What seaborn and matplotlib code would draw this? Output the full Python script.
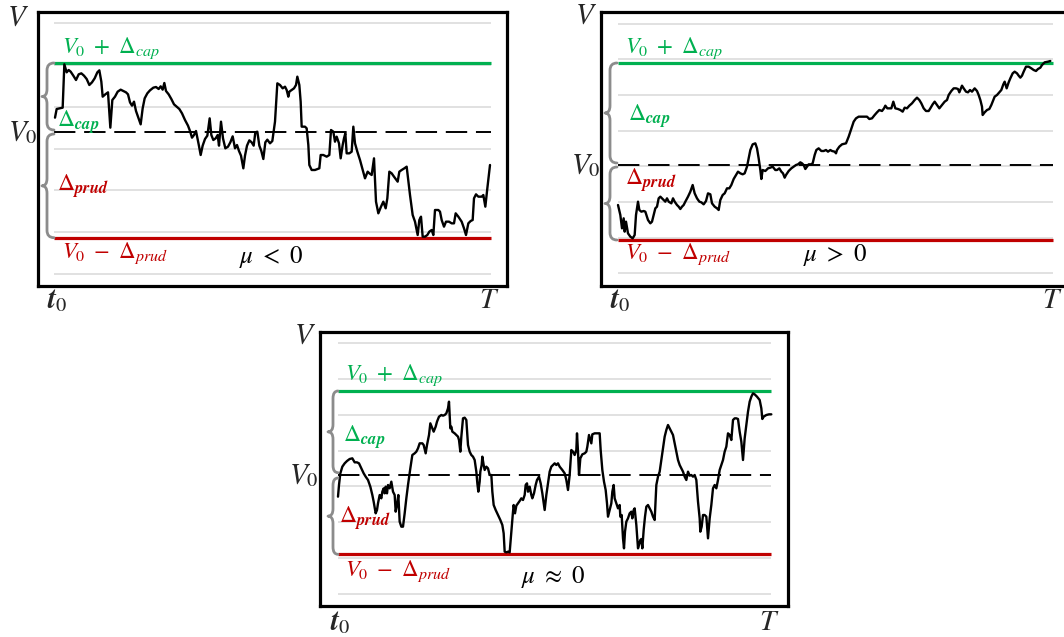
import numpy as np
import pandas as pd
import matplotlib
matplotlib.use("Agg")
import matplotlib.pyplot as plt
from matplotlib.path import Path
from matplotlib.patches import PathPatch
import seaborn as sns

# ---------------------------------------------------------------
# Simulated account value paths: time step and value relative to V0
# ---------------------------------------------------------------
down_t = [15, 20, 38, 43, 50, 56, 62, 70, 78, 86,
          94, 102, 110, 118, 126, 134, 142, 148, 154, 158,
          166, 174, 181, 187, 195, 203, 212, 220, 228, 234,
          240, 246, 252, 258, 265, 272, 278, 284, 292, 300,
          310, 318, 326, 332, 338, 343, 348, 356, 364, 372,
          380, 388, 396, 405, 414, 420, 426, 432, 438, 446,
          452, 458, 465, 472, 479, 484, 490, 497, 503, 507,
          513, 519, 526, 534, 541, 548, 555, 561, 567, 573,
          580, 585, 591, 598, 605, 611, 616, 622, 628, 634,
          640, 646, 652, 660, 667, 675, 682, 690, 698, 705,
          710, 715, 718, 725, 732, 738, 742, 748, 752, 755,
          765, 770, 775, 778, 785, 795, 808, 812, 820, 830,
          838, 843, 850, 855, 860, 867, 872, 878, 882, 886,
          890, 898, 905, 910, 915, 922, 930, 938, 945, 953,
          958, 965, 972, 978, 985, 993, 1000, 1007, 1012, 1018,
          1025, 1032, 1043, 1048, 1055, 1063, 1070, 1080, 1088, 1095,
          1103, 1108, 1113, 1118, 1125, 1132, 1138, 1145, 1150, 1155,
          1165, 1170, 1175, 1182, 1188, 1197, 1205, 1212, 1217, 1225,
          1235, 1242, 1248, 1255, 1262, 1268, 1272, 1278, 1285, 1295,
          1300, 1306, 1312, 1320]
down_v = [43, 69, 73, 203, 179, 186, 181, 169, 156, 173,
          176, 169, 159, 141, 149, 161, 179, 185, 151, 106,
          113, 119, 13, 96, 106, 121, 127, 123, 119, 113,
          89, 79, 91, 63, 43, 23, 71, 101, 116, 125,
          133, 135, 129, 137, 127, 147, 123, 113, 99, 83,
          76, 69, 56, 36, 19, 3, -17, -9, 3, -37,
          -69, -41, -21, -11, 41, -9, -24, -19, -9, -41,
          31, -19, -49, -44, -31, -13, -49, -39, -57, -71,
          -109, -71, -41, -25, -31, -41, -1, 1, -41, -57,
          -81, -31, -23, -34, -27, 31, 146, 141, 131, 136,
          126, 106, 121, 126, 131, 141, 166, 141, 91, 16,
          16, 11, -39, -99, -114, -114, -109, -69, -69, -74,
          -69, 6, 1, -29, -14, -34, -79, -39, -19, -4,
          -64, -64, -59, 16, -34, -59, -84, -114, -139, -119,
          -124, -129, -79, -209, -244, -224, -209, -229, -199, -119,
          -124, -134, -149, -119, -114, -109, -104, -189, -249, -269,
          -309, -264, -254, -314, -314, -309, -299, -294, -309, -234,
          -234, -239, -264, -284, -269, -269, -274, -274, -244, -254,
          -269, -289, -309, -274, -267, -264, -199, -187, -194, -194,
          -189, -224, -169, -99]

up_t = [18, 25, 30, 35, 38, 42, 48, 55, 62, 68,
        72, 78, 82, 88, 95, 100, 108, 115, 120, 125,
        130, 135, 140, 145, 150, 155, 160, 165, 170, 178,
        183, 188, 195, 200, 205, 210, 215, 220, 228, 235,
        242, 248, 255, 262, 268, 275, 282, 288, 295, 300,
        308, 315, 320, 325, 332, 338, 345, 352, 358, 365,
        372, 378, 385, 392, 398, 405, 410, 415, 422, 430,
        435, 440, 445, 448, 452, 460, 468, 475, 482, 490,
        495, 502, 508, 513, 518, 522, 530, 538, 545, 552,
        558, 565, 570, 575, 580, 585, 590, 597, 602, 608,
        613, 620, 628, 635, 642, 648, 655, 660, 668, 672,
        675, 682, 690, 702, 710, 715, 720, 725, 732, 740,
        748, 755, 765, 772, 780, 788, 795, 802, 810, 816,
        820, 826, 832, 838, 844, 850, 858, 865, 872, 878,
        885, 892, 900, 908, 915, 922, 928, 935, 942, 950,
        955, 962, 968, 975, 982, 990, 998, 1005, 1010, 1018,
        1025, 1032, 1038, 1042, 1050, 1055, 1062, 1068, 1074, 1080,
        1088, 1095, 1100, 1105, 1110, 1112, 1118, 1125, 1132, 1138,
        1144, 1148, 1155, 1162, 1168, 1174, 1178, 1184, 1190, 1195,
        1202, 1208, 1215, 1220, 1225, 1230, 1235, 1242, 1250, 1258,
        1265, 1272, 1278, 1285, 1290, 1298, 1308, 1315]
up_v = [-120, -150, -190, -160, -200, -170, -205, -215, -220, -210,
        -150, -110, -135, -140, -138, -140, -165, -175, -170, -150,
        -130, -125, -100, -95, -100, -105, -110, -100, -110, -115,
        -100, -110, -120, -125, -132, -125, -120, -110, -95, -80,
        -60, -85, -100, -110, -112, -118, -108, -85, -88, -115,
        -125, -130, -135, -105, -90, -85, -70, -70, -60, -42,
        -30, -20, -25, -28, -25, -5, 20, 45, 62, 65,
        50, 20, -15, -42, -15, -18, -10, -8, -5, -15,
        -15, -10, -20, -25, -38, -30, -18, -10, -5, 0,
        2, 8, 5, 0, -12, -5, 2, 2, 5, 30,
        45, 50, 42, 42, 45, 40, 45, 42, 40, 35,
        45, 55, 62, 65, 85, 100, 115, 130, 140, 145,
        145, 145, 145, 138, 140, 150, 158, 165, 162, 170,
        178, 170, 170, 170, 190, 170, 168, 165, 160, 172,
        170, 178, 185, 195, 202, 195, 185, 170, 162, 162,
        170, 182, 190, 180, 170, 180, 190, 195, 210, 222,
        230, 230, 228, 218, 238, 230, 220, 218, 225, 220,
        230, 222, 210, 195, 175, 150, 158, 165, 168, 180,
        195, 205, 210, 218, 225, 242, 250, 230, 248, 260,
        275, 280, 275, 268, 262, 268, 280, 295, 295, 290,
        285, 282, 288, 292, 300, 308, 310, 312]

flat_t = [15, 18, 22, 28, 35, 42, 50, 58, 65, 72,
          78, 85, 92, 98, 105, 112, 118, 122, 128, 132,
          135, 140, 145, 148, 152, 155, 158, 162, 165, 170,
          175, 180, 185, 188, 192, 196, 200, 205, 210, 215,
          220, 225, 232, 238, 245, 250, 255, 260, 268, 272,
          278, 282, 288, 292, 298, 302, 308, 312, 318, 325,
          330, 335, 340, 345, 348, 352, 355, 358, 365, 370,
          375, 378, 382, 385, 390, 395, 400, 405, 410, 415,
          420, 425, 430, 433, 436, 440, 442, 446, 448, 452,
          455, 460, 465, 470, 475, 478, 482, 488, 495, 502,
          508, 512, 515, 520, 525, 530, 535, 540, 542, 546,
          550, 555, 560, 565, 570, 575, 578, 582, 585, 590,
          595, 598, 603, 608, 612, 618, 623, 628, 635, 640,
          645, 650, 655, 660, 665, 670,
          675, 680, 688, 695, 700, 705, 710, 715, 720, 725,
          730, 732, 735, 738, 742, 748, 755, 760, 763, 768,
          772, 775, 778, 785, 792, 800, 803, 808, 813, 818,
          822, 825, 830, 835, 838, 842, 845, 850, 855, 860,
          862, 866, 870, 873, 876, 880, 885, 890, 895, 898,
          902, 905, 910, 915, 918, 922, 925, 928, 932, 936,
          940, 945, 950, 955, 960, 965, 970, 975, 980, 985,
          990, 995, 1000, 1005, 1010, 1015, 1020, 1025, 1030, 1035,
          1040, 1045, 1050, 1055, 1060, 1065, 1070, 1075, 1080, 1085,
          1090, 1095, 1100, 1102, 1106, 1110, 1115, 1120, 1125, 1130,
          1135, 1140, 1145, 1150, 1155, 1160, 1165, 1170, 1175, 1180,
          1185, 1190, 1195, 1200, 1205, 1210, 1215, 1220, 1225, 1230,
          1235, 1240, 1245, 1250, 1255, 1260, 1265, 1272, 1280, 1285,
          1288, 1292, 1300, 1308, 1315]
flat_v = [-64, -29, 6, 26, 36, 43, 49, 51, 39, 39,
          36, 21, 6, -4, -14, -34, -59, -79, -114, -104,
          -84, -59, -69, -49, -39, -54, -34, -54, -29, -39,
          -19, -49, -59, -109, -89, -59, -139, -154, -154, -114,
          -69, -29, 21, 61, 66, 71, 81, 96, 96, 91,
          66, 91, 121, 156, 141, 131, 146, 161, 176, 181,
          179, 181, 186, 201, 221, 141, 146, 131, 126, 121,
          116, 106, 71, 116, 171, 173, 166, 91, 71, 61,
          56, 46, 11, -24, -49, -19, 11, 31, 56, 31,
          16, 26, 21, 1, 1, -49, -89, -104, -119, -134,
          -149, -174, -229, -231, -229, -231, -169, -109, -89, -114,
          -91, -84, -77, -69, -74, -59, -29, -24, -49, -34,
          -59, -69, -54, -29, -14, -4, -24, -54, -104, -59,
          -24, 11, 26, 31, 36, 31,
          36, 26, 16, 6, -14, -44, 1, 76, 71, 61,
          76, 126, 71, 1, 51, 63, 66, 71, 86, 121,
          106, 96, 123, 126, 126, 126, 76, 16, -19, -44,
          -84, -124, -104, -84, -49, -29, -69, -84, -99, -89,
          -124, -119, -189, -219, -169, -139, -129, -114, -109, -129,
          -104, -99, -149, -219, -209, -194, -191, -219, -164, -124,
          -94, -89, -99, -109, -124, -134, -29, -4, 11, 46,
          81, 116, 136, 151, 141, 131, 121, 96, 71, 46,
          31, 21, 11, -4, -14, 11, -1, 1, -4, 1,
          -14, -79, -129, -169, -154, -119, -119, -124, -189, -129,
          -89, -39, -29, -39, -14, 16, 31, 46, 71, 86,
          126, 121, 106, 166, 171, 171, 169, 131, 101, 46,
          111, 151, 191, 221, 236, 246, 243, 236, 226, 201,
          169, 176, 181, 183, 183]

# Capital / prudential band widths around V0 for each scenario
cap_widths = [207, 306, 253]
prud_widths = [317, 225, 237]
drift_labels = [r"$\mu\ <\ 0$", r"$\mu\ >\ 0$", r"$\mu\ \approx\ 0$"]

# Horizontal reference grid levels (relative to V0)
grid_down = [327, 201, 76, -50, -175, -300, -426]
grid_up = [424, 317, 210, 103, -4, -111, -218, -325]
grid_flat = [397, 289, 181, 73, -32, -140, -248, -356]

GREEN = "#00B050"
RED = "#C00000"
GREY = "#8C8C8C"
GRID = "#DCDCDC"

sns.set_theme(style="white")
plt.rcParams["mathtext.fontset"] = "stix"
plt.rcParams["font.family"] = ["DejaVu Serif"]

fig = plt.figure(figsize=(10.64, 6.37), dpi=100)

# axes rectangles [left, bottom, width, height] in figure fraction
rects = [
    [38 / 1064, 1 - 286 / 637, 469 / 1064, 274 / 637],
    [600.5 / 1064, 1 - 286 / 637, 466.5 / 1064, 274 / 637],
    [320 / 1064, 1 - 606 / 637, 468 / 1064, 274 / 637],
]

panels = [
    dict(t=down_t, v=down_v, grid=grid_down, xlim=(-36, 1371), ylim=(-462, 360),
         span=(12, 1323), brace=(-24, -9, 12, 6),
         lab_V=(-96, 345), lab_V0=-37, lab_t0=21, lab_T=1317, lab_bottom=-462,
         lab_cap_top=(36, 213), lab_cap=(21, 30), lab_prud=(21, -162),
         lab_prud_bot=(36, -326), lab_mu=(663, -375)),
    dict(t=up_t, v=up_v, grid=grid_up, xlim=(-34.5, 1365), ylim=(-363, 459),
         span=(17, 1322), brace=(-21, -6, 15, 6),
         lab_V=(-78, 450), lab_V0=-34, lab_t0=24, lab_T=1320, lab_bottom=-363,
         lab_cap_top=(39, 312), lab_cap=(48, 147), lab_prud=(39, -45),
         lab_prud_bot=(39, -230), lab_mu=(669, -270)),
    dict(t=flat_t, v=flat_v, grid=grid_flat, xlim=(-39, 1365), ylim=(-392, 430),
         span=(15, 1314), brace=(-15, 0, 15, 8),
         lab_V=(-84, 421), lab_V0=-43, lab_t0=21, lab_T=1308, lab_bottom=-398,
         lab_cap_top=(36, 262), lab_cap=(30, 115), lab_prud=(18, -128),
         lab_prud_bot=(36, -250), lab_mu=(660, -305)),
]


def draw_brace(ax, x_tip, x_spine, x_end, y_top, y_bot, r=22):
    """Left-pointing curly brace between y_top and y_bot."""
    y_mid = (y_top + y_bot) / 2
    verts = [(x_end, y_top), (x_spine, y_top), (x_spine, y_top - r),
             (x_spine, y_mid + r),
             (x_spine, y_mid), (x_tip, y_mid),
             (x_spine, y_mid), (x_spine, y_mid - r),
             (x_spine, y_bot + r),
             (x_spine, y_bot), (x_end, y_bot)]
    codes = [Path.MOVETO, Path.CURVE3, Path.CURVE3, Path.LINETO,
             Path.CURVE3, Path.CURVE3, Path.CURVE3, Path.CURVE3,
             Path.LINETO, Path.CURVE3, Path.CURVE3]
    ax.add_patch(PathPatch(Path(verts, codes), fill=False, edgecolor=GREY,
                           lw=2.0, capstyle="round", joinstyle="round",
                           clip_on=False, zorder=4))


for rect, p, cap, prud, mu in zip(rects, panels, cap_widths, prud_widths, drift_labels):
    ax = fig.add_axes(rect)
    x0, x1 = p["span"]

    ax.hlines(p["grid"], x0, x1, colors=GRID, lw=1.2, zorder=1)

    df = pd.DataFrame({"t": p["t"], "V": p["v"]})
    sns.lineplot(data=df, x="t", y="V", ax=ax, color="black", lw=1.7,
                 estimator=None, sort=False, zorder=3)

    ax.hlines(cap, x0, x1, colors=GREEN, lw=2.3, zorder=2.5)
    ax.hlines(-prud, x0, x1, colors=RED, lw=2.3, zorder=2.5)
    ax.hlines(0, x0, x1, colors="black", lw=1.4, linestyles=(0, (11, 4.5)), zorder=2.6)

    tip, spine, end, gap = p["brace"]
    draw_brace(ax, tip, spine, end, cap, gap)
    draw_brace(ax, tip, spine, end, -gap, -prud)

    ax.set_xlim(*p["xlim"])
    ax.set_ylim(*p["ylim"])
    ax.set_xticks([])
    ax.set_yticks([])
    ax.set_xlabel("")
    ax.set_ylabel("")
    for s in ax.spines.values():
        s.set_visible(True)
        s.set_color("black")
        s.set_linewidth(2.3)
        s.set_zorder(5)

    # axis annotations outside the frame
    ax.text(*p["lab_V"], r"$V$", fontsize=21, ha="center", va="center", clip_on=False)
    ax.text(p["lab_V0"], 0, r"$V_0$", fontsize=21, ha="right", va="center", clip_on=False)
    ax.text(p["lab_t0"], p["lab_bottom"], r"$\mathbfit{t}_0$", fontsize=21,
            ha="center", va="top", clip_on=False)
    ax.text(p["lab_T"], p["lab_bottom"], r"$T$", fontsize=21, ha="center", va="top",
            clip_on=False)

    # band annotations inside the frame
    ax.text(*p["lab_cap_top"], r"$V_0\ +\ \Delta_{cap}$", color=GREEN, fontsize=16.5,
            ha="left", va="bottom", zorder=6)
    ax.text(*p["lab_cap"], r"$\Delta_{\mathbfit{cap}}$", color=GREEN, fontsize=17,
            ha="left", va="center", zorder=6)
    ax.text(*p["lab_prud"], r"$\Delta_{\mathbfit{prud}}$", color=RED, fontsize=17,
            ha="left", va="center", zorder=6)
    ax.text(*p["lab_prud_bot"], r"$V_0\ -\ \Delta_{prud}$", color=RED, fontsize=16.5,
            ha="left", va="top", zorder=6)
    ax.text(*p["lab_mu"], mu, color="black", fontsize=18, ha="center", va="center",
            zorder=6)

fig.savefig("out.png", dpi=100)
